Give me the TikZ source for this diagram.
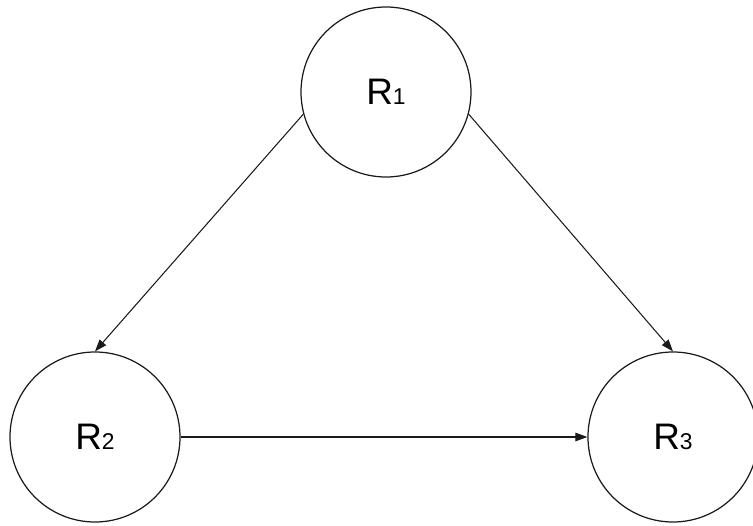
\documentclass[tikz,border=0pt]{standalone}
\usepackage{fontspec}
\setmainfont{Liberation Sans}
\usetikzlibrary{arrows.meta}
\definecolor{RLine}{HTML}{1A1A1A}
\tikzset{
  flow/.style={-{Triangle[length=2.4mm,width=1.7mm]},RLine,line width=0.6pt},
  region/.style={circle,draw=RLine,line width=0.7pt,minimum size=3.4cm,inner sep=0pt,
                 text=black},
}
\newcommand{\rname}[1]{{\fontsize{21}{24}\selectfont R}{\fontsize{13}{15}\selectfont #1}}

\begin{document}
\begin{tikzpicture}
  \useasboundingbox (0,0) rectangle (15.06,10.5);
  \node[region] (r1) at (7.72,8.66) {\rname{1}};
  \node[region] (r2) at (1.90,1.76) {\rname{2}};
  \node[region] (r3) at (13.46,1.76) {\rname{3}};

  \draw[flow] (r1.195) -- (r2.north);
  \draw[flow] (r1.-15) -- (r3.north);
  \draw[flow] (r2) -- (r3);
\end{tikzpicture}
\end{document}
